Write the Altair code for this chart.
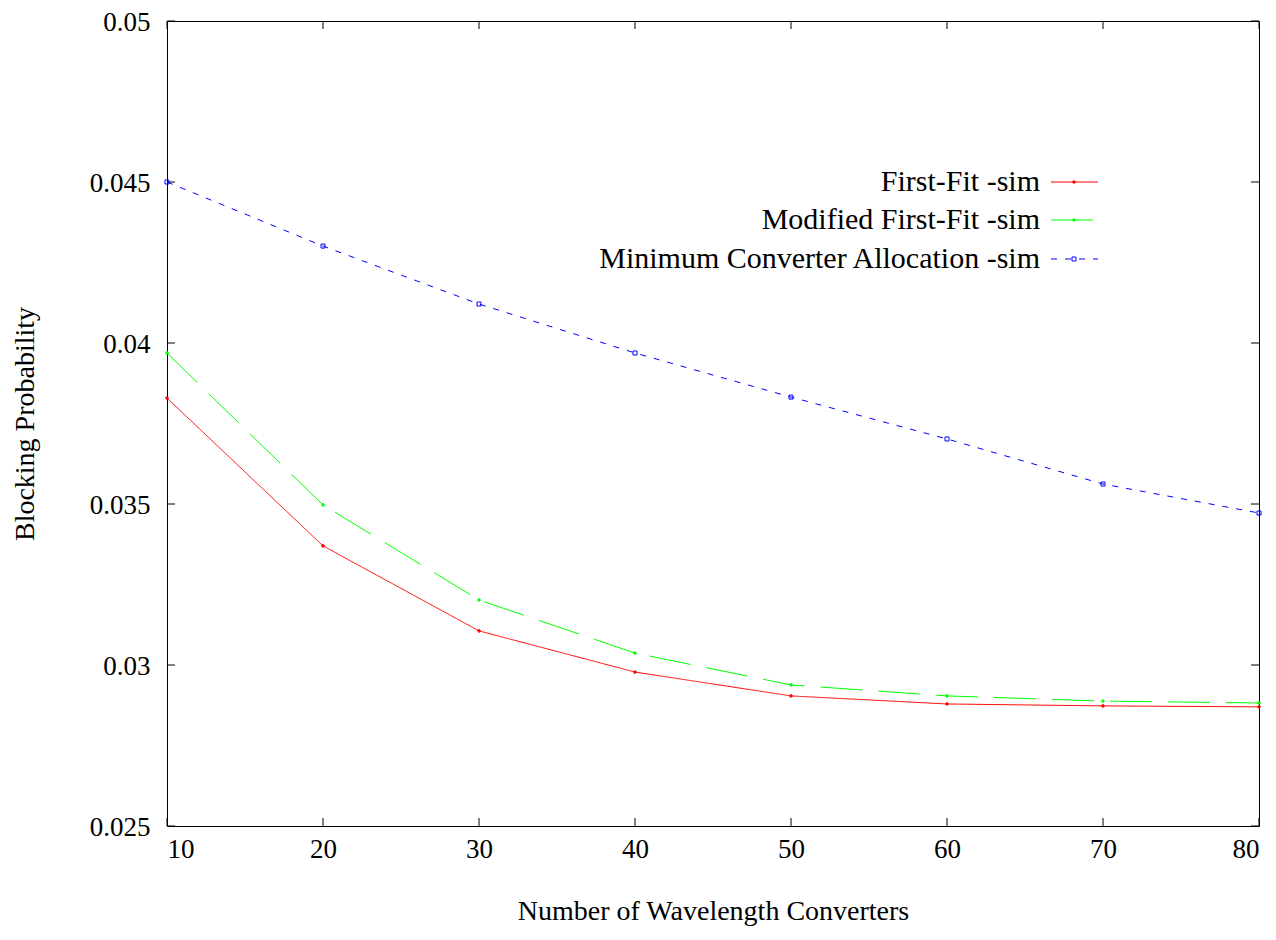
import altair as alt
import pandas as pd

converters = [10, 20, 30, 40, 50, 60, 70, 80]
first_fit = [0.03829, 0.03370, 0.03106, 0.02978, 0.02904, 0.02879, 0.02873, 0.02870]
modified_ff = [0.03969, 0.03497, 0.03202, 0.03037, 0.02938, 0.02904, 0.02888, 0.02882]
min_conv = [0.04500, 0.04301, 0.04121, 0.03969, 0.03832, 0.03702, 0.03562, 0.03472]
series_names = ["First-Fit -sim", "Modified First-Fit -sim", "Minimum Converter Allocation -sim"]
series_values = [first_fit, modified_ff, min_conv]
colors = ["#ff0000", "#00ff00", "#0000ff"]
dashes = [[1, 0], [42, 16], [6, 8]]
shapes = ["cross", "cross", "square"]
x_ticks = [10, 20, 30, 40, 50, 60, 70, 80]
y_ticks = [0.025, 0.03, 0.035, 0.04, 0.045, 0.05]

W, H = 1092, 805
FONT = "Liberation Serif"
TL = 8

xs = alt.Scale(domain=[10, 80], nice=False, zero=False)
ys = alt.Scale(domain=[0.025, 0.05], nice=False, zero=False)

layers = []
base = alt.Chart(pd.DataFrame({"x": x_ticks})).mark_point(opacity=0).encode(
    x=alt.X("x:Q", scale=xs,
            axis=alt.Axis(values=x_ticks, title="Number of Wavelength Converters",
                          labelPadding=10, format="d",
                          titleX=W / 2, titleY=93, titleBaseline="alphabetic",
                          ticks=False, grid=False, domain=False)),
    y=alt.Y("y:Q", scale=ys,
            axis=alt.Axis(values=y_ticks, title="Blocking Probability",
                          labelPadding=17, labelOffset=1.5, format="~g",
                          titleX=-142, titleY=H / 2, titleBaseline="middle",
                          ticks=False, grid=False, domain=False)),
).transform_calculate(y="0.03")
layers.append(base)

ydf = pd.DataFrame({"y": y_ticks})
xdf = pd.DataFrame({"x": x_ticks})
layers.append(alt.Chart(ydf).mark_rule(color="black", strokeWidth=1).encode(
    y=alt.Y("y:Q", scale=ys), x=alt.value(0), x2=alt.value(TL)))
layers.append(alt.Chart(ydf).mark_rule(color="black", strokeWidth=1).encode(
    y=alt.Y("y:Q", scale=ys), x=alt.value(W - TL), x2=alt.value(W)))
layers.append(alt.Chart(xdf).mark_rule(color="black", strokeWidth=1).encode(
    x=alt.X("x:Q", scale=xs), y=alt.value(H - TL), y2=alt.value(H)))
layers.append(alt.Chart(xdf).mark_rule(color="black", strokeWidth=1).encode(
    x=alt.X("x:Q", scale=xs), y=alt.value(0), y2=alt.value(TL)))

legend_y = [161, 199, 238]
for i, name in enumerate(series_names):
    df = pd.DataFrame({"x": converters, "y": series_values[i]})
    layers.append(alt.Chart(df).mark_line(color=colors[i], strokeWidth=1,
                                          strokeDash=dashes[i]).encode(
        x=alt.X("x:Q", scale=xs), y=alt.Y("y:Q", scale=ys)))
    filled = shapes[i] == "cross"
    layers.append(alt.Chart(df).mark_point(color=colors[i], shape=shapes[i],
                                           size=14 if filled else 16,
                                           filled=filled, strokeWidth=1, opacity=1).encode(
        x=alt.X("x:Q", scale=xs), y=alt.Y("y:Q", scale=ys)))
    ldf = pd.DataFrame({"label": [name], "lx": [873], "ly": [legend_y[i]],
                        "sx": [884], "sx2": [931], "mx": [907]})
    layers.append(alt.Chart(ldf).mark_text(font=FONT, fontSize=30, align="right",
                                           baseline="middle", color="black").encode(
        x=alt.X("lx:Q", scale=None), y=alt.Y("ly:Q", scale=None), text="label:N"))
    layers.append(alt.Chart(ldf).mark_rule(color=colors[i], strokeWidth=1,
                                           strokeDash=dashes[i]).encode(
        x=alt.X("sx:Q", scale=None), x2="sx2:Q", y=alt.Y("ly:Q", scale=None)))
    layers.append(alt.Chart(ldf).mark_point(color=colors[i], shape=shapes[i],
                                            size=14 if filled else 16,
                                            filled=filled, strokeWidth=1, opacity=1).encode(
        x=alt.X("mx:Q", scale=None), y=alt.Y("ly:Q", scale=None)))

chart = alt.layer(*layers).properties(
    width=W, height=H,
    background="white",
    autosize=alt.AutoSizeParams(type="none"),
    padding={"left": 159, "top": 13, "right": 5, "bottom": 100},
).configure_view(stroke="black", strokeWidth=1).configure_axis(
    labelFont=FONT, labelFontSize=27, labelColor="black",
    titleFont=FONT, titleFontSize=28, titleFontWeight="normal", titleColor="black",
)

chart.save("out.html", embed_options={"renderer": "svg", "actions": False})
